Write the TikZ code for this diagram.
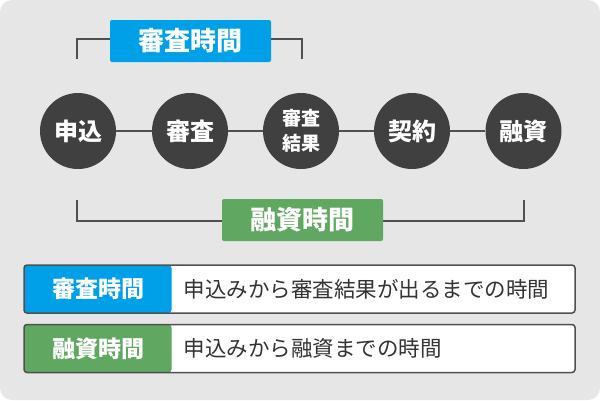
\documentclass[tikz,border=0pt]{standalone}
\usepackage{fontspec}
\newfontfamily\jpfont{Noto Sans CJK JP}
\usetikzlibrary{positioning}
\definecolor{reviewBlue}{RGB}{0,160,233}
\definecolor{loanGreen}{RGB}{96,168,98}
\definecolor{stageGray}{RGB}{64,64,64}
\definecolor{lineGray}{RGB}{80,80,80}
\definecolor{panelGray}{RGB}{230,230,230}
\definecolor{textGray}{RGB}{51,51,51}

\begin{document}
\begin{tikzpicture}[x=1pt,y=-1pt,
                stage/.style={circle,fill=stageGray,minimum size=76pt,inner sep=0pt,
                              text=white,align=center,font=\jpfont\bfseries\fontsize{24}{26}\selectfont},
                stagesmall/.style={stage,font=\jpfont\bfseries\fontsize{19}{25}\selectfont},
                link/.style={draw=lineGray,line width=2pt},
                tag/.style={rounded corners=2pt,minimum width=161pt,minimum height=42pt,inner sep=0pt,
                            text=white,font=\jpfont\bfseries\fontsize{26}{28}\selectfont},
                legendbox/.style={draw=lineGray,line width=1.5pt,rounded corners=3pt,fill=white,
                                  minimum width=551pt,minimum height=48pt,inner sep=0pt},
                legendtag/.style={text=white,font=\jpfont\bfseries\fontsize{23}{25}\selectfont},
                legendtext/.style={anchor=west,text=textGray,font=\jpfont\fontsize{21.5}{23}\selectfont}
            ]
                \useasboundingbox (0,0) rectangle (600,400);
                \fill[panelGray,rounded corners=12pt] (0,0) rectangle (600,400);

                % flow of stages
                \node[stage] (apply) at (78,131) {申込};
                \node[stage] (review) at (190,131) {審査};
                \node[stagesmall] (result) at (301,131) {審査\\結果};
                \node[stage] (contract) at (412,131) {契約};
                \node[stage] (loan) at (523.5,131) {融資};
                \draw[link] (apply) -- (review);
                \draw[link] (review) -- (result);
                \draw[link] (result) -- (contract);
                \draw[link] (contract) -- (loan);

                % review time bracket
                \coordinate (revL) at (77,59);
                \coordinate (revR) at (302,59);
                \draw[link] (revL) -- ++(0,-20) -| (revR);
                \node[tag,fill=reviewBlue] (revtag) at (190.5,41) {審査時間};

                % loan time bracket
                \coordinate (loanL) at (77,200);
                \coordinate (loanR) at (523.5,200);
                \draw[link] (loanL) -- ++(0,21) -| (loanR);
                \node[tag,fill=loanGreen] (loantag) at (302.5,220) {融資時間};

                % legend
                \node[legendbox,path picture={\fill[reviewBlue] (path picture bounding box.north west)
                      rectangle ([xshift=147.5pt]path picture bounding box.south west);}]
                      (revbox) at (299.5,289) {};
                \node[legendtag] (revkey) at (98,289) {審査時間};
                \node[legendtext] (revdesc) at (180,289) {申込みから審査結果が出るまでの時間};

                \node[legendbox,path picture={\fill[loanGreen] (path picture bounding box.north west)
                      rectangle ([xshift=147.5pt]path picture bounding box.south west);}]
                      (loanbox) at (299.5,348.5) {};
                \node[legendtag] (loankey) at (98,348.5) {融資時間};
                \node[legendtext] (loandesc) at (180,348.5) {申込みから融資までの時間};
            \end{tikzpicture}
\end{document}
